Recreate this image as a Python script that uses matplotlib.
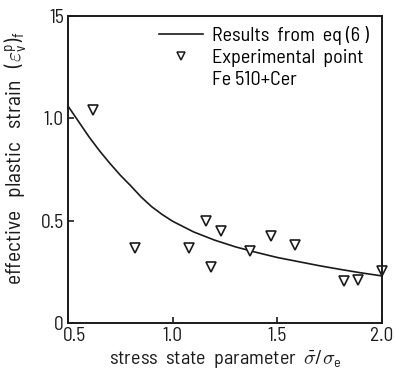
import matplotlib.pyplot as plt
import matplotlib.transforms as mtransforms
from matplotlib.lines import Line2D
from matplotlib import font_manager

# curve "results from eq (6)"
curve_x = [0.5, 0.55, 0.6, 0.65, 0.7, 0.75, 0.8, 0.85, 0.9, 0.95, 1.0, 1.1, 1.2, 1.3, 1.4, 1.5,
           1.6, 1.7, 1.8, 1.9, 2.0]
curve_y = [1.06, 0.985, 0.91, 0.842, 0.78, 0.722, 0.67, 0.615, 0.568, 0.53, 0.497, 0.445, 0.405,
           0.372, 0.345, 0.32, 0.30, 0.28, 0.262, 0.245, 0.23]

# experimental points Fe 510 + Cer
exp_x = [0.62, 0.82, 1.08, 1.16, 1.185, 1.23, 1.37, 1.47, 1.585, 1.82, 1.885, 2.0]
exp_y = [1.04, 0.365, 0.365, 0.50, 0.275, 0.45, 0.352, 0.427, 0.38, 0.207, 0.212, 0.255]

xticks = [0.5, 1.0, 1.5, 2.0]
xticklabels = ["0.5", "1.0", "1.5", "2.0"]
yticks = [0, 0.5, 1.0, 1.5]
yticklabels = ["0", "0.5", "1.0", "15"]

# narrow technical-looking lettering, take the first one that is there
wanted = ["Barlow Semi Condensed", "Roboto Condensed", "Archivo Narrow",
          "PT Sans Narrow", "Liberation Sans Narrow", "Liberation Sans"]
names = {f.name for f in font_manager.fontManager.ttflist}
fam = next((w for w in wanted if w in names), "DejaVu Sans")
plt.rcParams["font.family"] = [fam, "DejaVu Sans"]
plt.rcParams["mathtext.fontset"] = "custom"
plt.rcParams["mathtext.rm"] = fam
plt.rcParams["mathtext.it"] = fam
plt.rcParams["mathtext.sf"] = fam

ink = "#1a1a1a"
fig = plt.figure(figsize=(3.94, 3.71), dpi=100)
ax = fig.add_axes([0.1726, 0.1294, 0.7969, 0.8275])

ax.plot(curve_x, curve_y, color=ink, lw=1.2, clip_on=False)
ax.plot(exp_x, exp_y, ls="none", marker="v", ms=6.5, mfc="white", mec=ink, mew=1.2, clip_on=False)

ax.set_xlim(0.5, 2.0)
ax.set_ylim(0, 1.5)
ax.set_xticks(xticks)
ax.set_xticklabels(xticklabels)
ax.set_yticks(yticks)
ax.set_yticklabels(yticklabels)
ax.tick_params(direction="in", length=4, width=1.2, labelsize=14, colors=ink, pad=3)
for s in ax.spines.values():
    s.set_linewidth(1.4)
    s.set_color(ink)

# first x label sits a bit to the right of the corner in the original
first = ax.get_xticklabels()[0]
first.set_transform(first.get_transform() + mtransforms.ScaledTranslation(5 / 72, 0, fig.dpi_scale_trans))

ax.set_xlabel(r"stress  state  parameter  $\bar{\sigma}/\sigma_e$", fontsize=14.5, color=ink, labelpad=2)
ax.set_ylabel(r"effective   plastic   strain   $(\varepsilon_v^p)_f$", fontsize=15.5, color=ink, labelpad=2)
ax.yaxis.set_label_coords(-0.125, 0.535)

handles = [
    Line2D([], [], color=ink, lw=1.2),
    Line2D([], [], ls="none", marker="v", ms=6, mfc="white", mec=ink, mew=1.1),
    Line2D([], [], ls="none"),
]
labels = ["Results  from  eq (6 )", "Experimental  point", "Fe 510+Cer"]
ax.legend(handles, labels, loc="upper right", frameon=False, fontsize=14.5,
          handlelength=2.2, handletextpad=0.45, labelspacing=0.2,
          borderaxespad=0.1, bbox_to_anchor=(0.99, 1.0))

fig.savefig("out.png", dpi=100)
